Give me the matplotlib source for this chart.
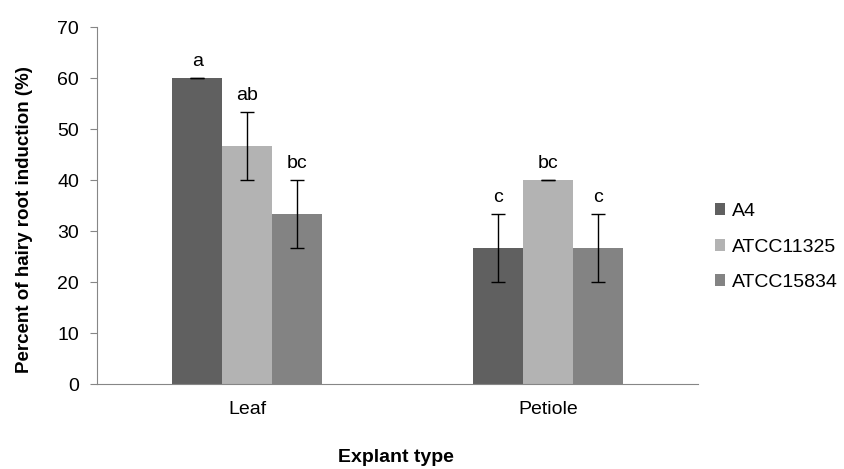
import matplotlib.pyplot as plt
import numpy as np

plt.rcParams["font.family"] = ["Liberation Sans", "DejaVu Sans"]

categories = ["Leaf", "Petiole"]
series = ["A4", "ATCC11325", "ATCC15834"]
values = {
    "A4": [60.0, 26.67],
    "ATCC11325": [46.67, 40.0],
    "ATCC15834": [33.33, 26.67],
}
errors = {
    "A4": [0.0, 6.67],
    "ATCC11325": [6.67, 0.0],
    "ATCC15834": [6.67, 6.67],
}
letters = {
    "A4": ["a", "c"],
    "ATCC11325": ["ab", "bc"],
    "ATCC15834": ["bc", "c"],
}
colors = {"A4": "#606060", "ATCC11325": "#b3b3b3", "ATCC15834": "#838383"}

FS = 14

fig = plt.figure(figsize=(8.44, 4.69), dpi=100)
ax = fig.add_axes([0.115, 0.181, 0.712, 0.761])

x = np.arange(len(categories))
width = 1 / 6
for i, s in enumerate(series):
    pos = x + (i - 1) * width
    ax.bar(pos, values[s], width, color=colors[s], label=s, zorder=2)
    ax.errorbar(pos, values[s], yerr=errors[s], fmt="none", ecolor="black",
                elinewidth=1, capsize=5, capthick=1, zorder=3)
    for p, v, e, t in zip(pos, values[s], errors[s], letters[s]):
        ax.annotate(t, (p, v + e), textcoords="offset points", xytext=(0, 6),
                    ha="center", va="bottom", fontsize=FS)

ax.set_xlim(-0.5, 1.5)
ax.set_ylim(0, 70)
ax.set_yticks(range(0, 71, 10))
ax.set_xticks(x)
ax.set_xticklabels(categories, fontsize=FS)
ax.tick_params(axis="y", labelsize=FS, color="#868686", length=5, pad=8)
ax.tick_params(axis="x", length=0, pad=12)
for side in ["top", "right"]:
    ax.spines[side].set_visible(False)
for side in ["left", "bottom"]:
    ax.spines[side].set_color("#868686")

ax.set_ylabel("Percent of hairy root induction (%)", fontsize=13.5, fontweight="bold")
ax.yaxis.set_label_coords(-0.107, 0.46)
fig.text(0.469, 0.024, "Explant type", ha="center", va="center", fontsize=FS, fontweight="bold")

ax.legend(loc="center left", bbox_to_anchor=(1.015, 0.384), frameon=False, fontsize=FS,
          handlelength=0.55, handleheight=0.55, handletextpad=0.35, labelspacing=0.95,
          borderaxespad=0)

fig.savefig("out.png", dpi=100)
